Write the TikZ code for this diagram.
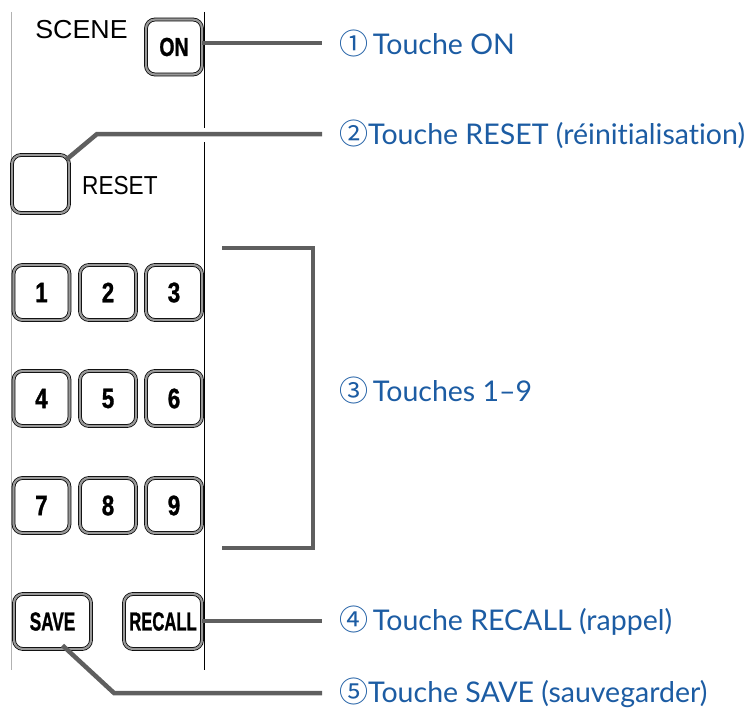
\documentclass[tikz,border=0pt]{standalone}
\usepackage{fontspec}
\usepackage{graphicx}
\setmainfont{Liberation Sans}
\newfontfamily\labfont[Ligatures={NoCommon}]{Lato}
\newfontfamily\circfont{Noto Sans CJK JP}
\newfontfamily\keyfont[FakeBold=1.2]{Liberation Sans Bold}
\usetikzlibrary{calc}
\definecolor{labblue}{RGB}{28,92,163}
\definecolor{leadgray}{RGB}{95,95,95}
\newcommand{\narrow}[2][0.74]{\scalebox{#1}[1]{#2}}
\newcommand{\circnum}[1]{{\circfont\fontsize{29}{29}\selectfont #1}}
\tikzset{
	btn/.style={draw=black, fill=white, line width=0.8pt, double=black!40, double distance=2.2pt,
		rounded corners=9pt, minimum width=#1, minimum height=55pt, inner sep=0pt,
		font=\keyfont\fontsize{26}{26}\selectfont},
	btn/.default=56pt,
	digit/.style={btn, font=\keyfont\fontsize{28}{28}\selectfont},
	leader/.style={draw=leadgray, line width=4.5pt},
	lab/.style={anchor=west, inner xsep=17pt, inner ysep=0pt, text=labblue,
		font=\labfont\fontsize{28.5}{28.5}\selectfont},
	plain/.style={inner sep=0pt, font=\fontsize{26}{26}\selectfont},
}

\begin{document}
\begin{tikzpicture}[x=1pt, y=-1pt]
		%%%%% START %%%%%
		\useasboundingbox (0, 0) rectangle (755, 709);
		
		% panel edges
		\draw[line width=1pt, color=black!30] (11, 12) -- (11, 670);
		\draw[line width=1pt] (204, 12) -- (204, 128);
		\draw[line width=1pt] (204, 142) -- (204, 670);
		
		% scene keys
		\node[plain] (scene) at (81.5, 30) {\scalebox{1.03}[1]{SCENE}};
		\node[btn] (on) at (174, 47) {\narrow[0.75]{ON}};
		\node[btn=57pt, minimum height=58pt] (reset) at (40.5, 184) {};
		\node[plain, anchor=west] (resettxt) at (82, 186) {\scalebox{0.87}[1]{RESET}};
		
		\node[digit] (k1) at (41.5, 292.5) {\narrow[0.8]{1}};
		\node[digit] (k2) at (108, 292.5) {\narrow[0.8]{2}};
		\node[digit] (k3) at (174, 292.5) {\narrow[0.8]{3}};
		\node[digit] (k4) at (41.5, 398.5) {\narrow[0.8]{4}};
		\node[digit] (k5) at (108, 398.5) {\narrow[0.8]{5}};
		\node[digit] (k6) at (174, 398.5) {\narrow[0.8]{6}};
		\node[digit] (k7) at (41.5, 505.5) {\narrow[0.8]{7}};
		\node[digit] (k8) at (108, 505.5) {\narrow[0.8]{8}};
		\node[digit] (k9) at (174, 505.5) {\narrow[0.8]{9}};
		
		\node[btn=77pt] (save) at (52.5, 621.5) {\narrow[0.66]{SAVE}};
		\node[btn=78pt] (recall) at (163, 621.5) {\narrow[0.64]{RECALL}};
		
		% labels
		\node[lab] (l1) at (322, 43) {\circnum{①}\,Touche ON};
		\node[lab] (l2) at (322, 134) {\circnum{②}Touche RESET (réinitialisation)};
		\node[lab] (l3) at (322, 390) {\circnum{③}\,Touches 1–9};
		\node[lab] (l4) at (322, 621) {\circnum{④}\,Touche RECALL (rappel)};
		\node[lab] (l5) at (322, 693) {\circnum{⑤}Touche SAVE (sauvegarder)};
		
		% leaders
		\coordinate (rk) at (97, 134);
		\coordinate (b1) at (222, 248);
		\coordinate (b2) at (222, 548);
		\coordinate (sk) at (114, 693);
		
		\draw[leader] (on.east |- l1.west) -- (l1.west);
		\draw[leader] ($(reset.north east)+(-3, 5)$) -- (rk) -- (l2.west);
		\draw[leader] (b1) -- ++(91, 0) |- (b2);
		\draw[leader] (recall.east |- l4.west) -- (l4.west);
		\draw[leader] ($(save.south)+(10, -4)$) -- (sk) -- (l5.west);
		
		%%%%% END %%%%%
\end{tikzpicture}
\end{document}
